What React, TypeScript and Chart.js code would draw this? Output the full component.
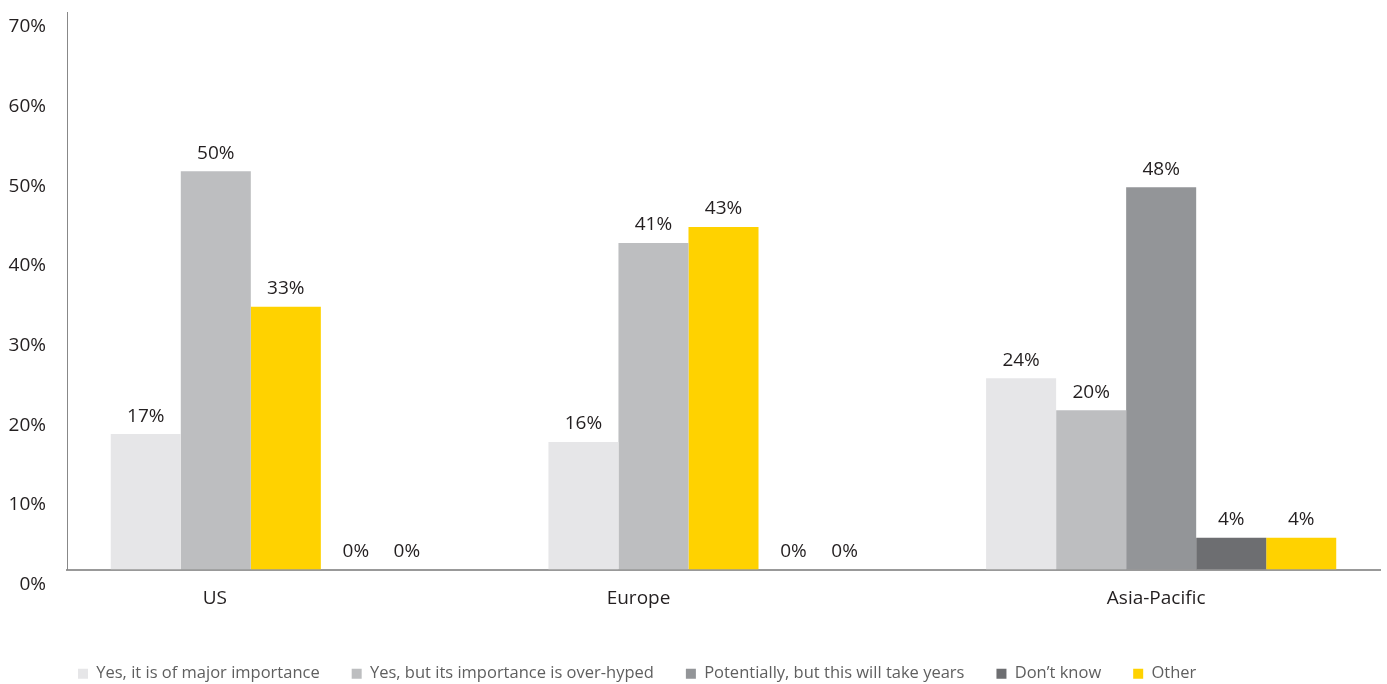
import React, { useEffect, useRef } from "react";
import { Chart, registerables } from "chart.js";

Chart.register(...registerables);

const categories = ["US", "Europe", "Asia-Pacific"];
const seriesNames = [
  "Yes, it is of major importance",
  "Yes, but its importance is over-hyped",
  "Potentially, but this will take years",
  "Don\u2019t know",
  "Other",
];
// Bars in the order they appear inside each group (US / Europe / Asia-Pacific)
const bar1Values = [17, 16, 24];
const bar2Values = [50, 41, 20];
const bar3Values = [33, 43, 48];
const bar4Values = [0, 0, 4];
const bar5Values = [0, 0, 4];
const yTicks = [0, 10, 20, 30, 40, 50, 60, 70];

const seriesColors = ["#e6e6e8", "#bdbec0", "#939598", "#6d6e71", "#ffd200"];
// colours of the third bar in each group (US and Europe show "Other" there)
const bar3Colors = ["#ffd200", "#ffd200", "#939598"];
// horizontal shift of category labels relative to group centre (as in the original)
const categoryLabelShift = [-71, -85, -5];
// the original nudges the last zero label leftwards
const zeroLabelShiftLastBar = -19;

const FONT = "'Open Sans', 'Noto Sans', sans-serif";

const valueLabelPlugin = {
  id: "valueLabels",
  afterDatasetsDraw(chart: any) {
    const ctx = chart.ctx;
    ctx.save();
    ctx.font = `19px ${FONT}`;
    ctx.fillStyle = "#231f20";
    ctx.textAlign = "center";
    ctx.textBaseline = "middle";
    const n = chart.data.datasets.length;
    chart.data.datasets.forEach((ds: any, di: number) => {
      const meta = chart.getDatasetMeta(di);
      meta.data.forEach((bar: any, i: number) => {
        const v = ds.data[i];
        const dx = di === n - 1 && v === 0 ? zeroLabelShiftLastBar : 0;
        ctx.fillText(`${v}%`, bar.x + dx, bar.y - 18);
      });
    });
    ctx.restore();
  },
  afterDraw(chart: any) {
    const ctx = chart.ctx;
    const xs = chart.scales.x;
    ctx.save();
    ctx.font = `19px ${FONT}`;
    ctx.fillStyle = "#231f20";
    ctx.textAlign = "center";
    ctx.textBaseline = "middle";
    categories.forEach((c, i) => {
      ctx.fillText(c, xs.getPixelForValue(i) + categoryLabelShift[i], chart.chartArea.bottom + 29);
    });
    ctx.restore();
  },
};

const legendShiftPlugin = {
  id: "legendShift",
  afterLayout(chart: any) {
    const lg = chart.legend;
    if (!lg) return;
    const pad = lg.options.labels.padding;
    const w = lg.right - lg.left;
    lg.left = chart.chartArea.left + 11 - pad;
    lg.right = lg.left + w;
  },
};

export default function App() {
  const ref = useRef<HTMLCanvasElement>(null);
  useEffect(() => {
    if (!ref.current) return;
    const data = [bar1Values, bar2Values, bar3Values, bar4Values, bar5Values];
    const chart = new Chart(ref.current, {
      type: "bar",
      data: {
        labels: categories,
        datasets: data.map((d, i) => ({
          label: seriesNames[i],
          data: d,
          backgroundColor: i === 2 ? bar3Colors : seriesColors[i],
          borderWidth: 0,
          categoryPercentage: 0.8,
          barPercentage: 1.0,
        })),
      },
      plugins: [valueLabelPlugin, legendShiftPlugin],
      options: {
        animation: false,
        responsive: true,
        maintainAspectRatio: false,
        layout: { padding: { left: 0, right: 7, top: 12, bottom: -8 } },
        plugins: {
          tooltip: { enabled: false },
          legend: {
            position: "bottom",
            align: "start",
            labels: {
              boxWidth: 10,
              boxHeight: 10,
              padding: 32,
              color: "#5f5f5f",
              font: { family: FONT, size: 16.5 },
              generateLabels(chart: any) {
                const items = Chart.defaults.plugins.legend.labels.generateLabels(chart);
                return items.map((it: any, i: number) => ({
                  ...it,
                  fillStyle: seriesColors[i],
                  strokeStyle: seriesColors[i],
                  lineWidth: 0,
                }));
              },
            },
          },
        },
        scales: {
          x: {
            grid: { display: false, drawTicks: false },
            border: { display: true, color: "#999999", width: 2 },
            ticks: { display: false },
            afterFit(scale: any) {
              scale.height = 64;
            },
          },
          y: {
            min: yTicks[0],
            max: yTicks[yTicks.length - 1],
            grid: { display: false, drawTicks: false },
            border: { display: true, color: "#888888", width: 1 },
            afterBuildTicks(scale: any) {
              scale.ticks = yTicks.map((v) => ({ value: v }));
            },
            afterFit(scale: any) {
              scale.width = 67;
              scale.paddingTop = 0;
              scale.paddingBottom = 0;
            },
            ticks: {
              padding: 21,
              labelOffset: 15,
              color: "#231f20",
              font: { family: FONT, size: 19 },
              callback: (v: any) => `${v}%`,
            },
          },
        },
      },
    });
    return () => chart.destroy();
  }, []);
  return (
    <div style={{ position: "fixed", left: 0, top: 0, width: 1387, height: 684, background: "#fff" }}>
      <canvas ref={ref} />
    </div>
  );
}
